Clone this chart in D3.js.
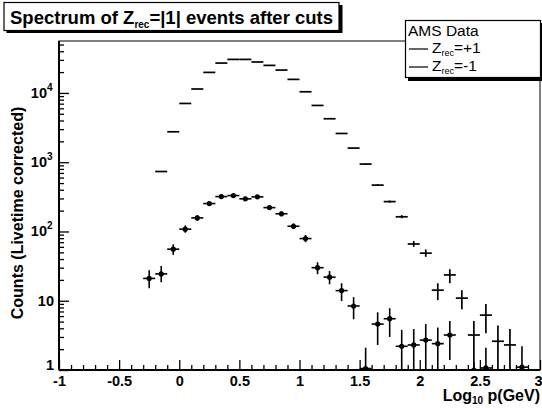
<!DOCTYPE html>
<html><head><meta charset="utf-8">
<script src="https://cdn.jsdelivr.net/npm/d3@7"></script>
<style>
body{margin:0;background:#fff}
svg{display:block}
text{font-family:"Liberation Sans",Arial,Helvetica,sans-serif;fill:#000}
</style>
</head><body>
<svg id="c" width="542" height="408"></svg>
<script>
// ---- data (log10 p bin centres, bin width 0.1) ----
const binWidth = 0.1;

// Z_rec = +1
const posX  = [-0.15,-0.05,0.05,0.15,0.25,0.35,0.45,0.55,0.65,0.75,0.85,0.95,1.05,1.15,1.25,1.35,1.45,1.55,1.65,1.75,1.85,1.95,2.05,2.15,2.25,2.35,2.45,2.55,2.65,2.75];
const posY  = [734,2750,7050,11400,19800,27000,30500,30500,28000,25000,21400,15700,10400,6600,4240,2600,1600,940,467,270,163,66,48.6,14.2,23.6,10.9,3.2,6.2,2.6,2.3];
const posHi = [734,2750,7050,11400,19800,27000,30500,30500,28000,25000,21400,15700,10400,6600,4240,2600,1600,960,480,280,172,73,55,17.9,28.5,14.2,5.1,9,4.4,3.9];
const posLo = [734,2750,7050,11400,19800,27000,30500,30500,28000,25000,21400,15700,10400,6600,4240,2600,1600,920,455,260,155,60,43,10.2,17.9,7.5,1,3.4,1,1];

// Z_rec = -1
const negX  = [-0.25,-0.15,-0.05,0.05,0.15,0.25,0.35,0.45,0.55,0.65,0.75,0.85,0.95,1.05,1.15,1.25,1.35,1.45,1.55,1.65,1.75,1.85,1.95,2.05,2.15,2.25,2.45,2.55,2.85];
const negY  = [21,24.4,55.5,108,157,253,319,330,296,316,221,180,119,79,30,21.9,14,8.4,1.05,4.6,5.5,2.2,2.3,2.7,2.4,3.2,1.0,1.07,1.1];
const negHi = [27.6,31.8,65.4,122,172,272,340,350,316,336,238,195,131,89,36,26.8,17.9,11.3,2.1,6.8,7.8,3.8,3.9,4.6,4.1,5.1,1.3,2.1,2.2];
const negLo = [15.2,18.5,45.9,96,143,236,300,311,278,297,205,166,108,70,24.2,17.3,9.9,5.4,1,2.3,3.0,1,1,1,1,1.4,1,1,1];

// axes
const xDomain = [-1, 3];
const yDomain = [1, 56234];
const xMajor = [-1,-0.5,0,0.5,1,1.5,2,2.5,3];
const xMajorLabels = ["-1","-0.5","0","0.5","1","1.5","2","2.5","3"];
const yMajor = [1,10,100,1000,10000];
const yMajorLabels = [["1",""],["10",""],["10","2"],["10","3"],["10","4"]];

const titleMain = ["Spectrum of Z","rec","=|1| events after cuts"];
const yTitle = "Counts (Livetime corrected)";
const legendHeader = "AMS Data";
const legendItems = [["Z","rec","=+1"],["Z","rec","=-1"]];

// ---- layout ----
const L = 59, R = 540, T = 41, B = 370;
const svg = d3.select("#c");
const x = d3.scaleLinear().domain(xDomain).range([L, R]);
const y = d3.scaleLog().domain(yDomain).range([B, T]);

svg.append("defs").append("clipPath").attr("id","pc")
  .append("rect").attr("x",L).attr("y",T).attr("width",R-L).attr("height",B-T+1);

// frame
svg.append("rect").attr("x",L).attr("y",T).attr("width",R-L).attr("height",B-T)
  .attr("fill","none").attr("stroke","#000").attr("stroke-width",1);

// minor x ticks
const xMinor = d3.range(-10, 31).map(i => i/10).filter(v => Math.abs(v*2 - Math.round(v*2)) > 1e-6);
const gx = svg.append("g").attr("transform",`translate(0,${B})`);
gx.call(d3.axisBottom(x).tickValues(xMinor).tickSize(-5).tickFormat(""))
  .call(g => g.select(".domain").remove());
gx.append("g").call(d3.axisBottom(x).tickValues(xMajor).tickSize(-10).tickPadding(4)
    .tickFormat((d,i) => xMajorLabels[i]))
  .call(g => g.select(".domain").remove())
  .call(g => g.selectAll("text").attr("font-size",14.5).attr("font-weight","bold")
         .attr("font-family",'"Liberation Sans",Arial,sans-serif').attr("dy","0.85em")
         .attr("text-anchor",(d,i) => i === xMajor.length-1 ? "end" : "middle")
         .attr("x",(d,i) => i === xMajor.length-1 ? 2 : 0));
gx.selectAll("line").attr("stroke","#000").attr("stroke-width",1.3);
svg.append("line").attr("x1",L).attr("x2",R).attr("y1",B).attr("y2",B).attr("stroke","#000").attr("stroke-width",2);

// y ticks
const yMinor = [];
[1,10,100,1000,10000].forEach(d => { for (let k=2;k<=9;k++){ const v=d*k; if (v<yDomain[1]) yMinor.push(v);} });
const gy = svg.append("g").attr("transform",`translate(${L},0)`);
gy.call(d3.axisLeft(y).tickValues(yMinor).tickSize(-5).tickFormat(""))
  .call(g => g.select(".domain").remove());
gy.append("g").call(d3.axisLeft(y).tickValues(yMajor).tickSize(-10).tickFormat(""))
  .call(g => g.select(".domain").remove());
gy.selectAll("line").attr("stroke","#000").attr("stroke-width",1.3);
svg.append("line").attr("x1",L).attr("x2",L).attr("y1",T).attr("y2",B).attr("stroke","#000").attr("stroke-width",2);

// y labels with superscripts
yMajor.forEach((v,i) => {
  const [base, sup] = yMajorLabels[i];
  svg.append("text").attr("x", L-5 - (sup?7:0)).attr("y", y(v)+ (v===1? 0 : 5))
    .attr("text-anchor","end").attr("font-size",14.5).attr("font-weight","bold").text(base);
  if (sup) svg.append("text").attr("x", L-12).attr("y", y(v)-2)
    .attr("font-size",10).attr("font-weight","bold").text(sup);
});

// data
const gd = svg.append("g").attr("clip-path","url(#pc)");
function drawSeries(xs, ys, his, los, dots, w){
  const g = gd.append("g").attr("stroke","#000").attr("stroke-width",w);
  xs.forEach((c,i) => {
    g.append("line").attr("x1",x(c-binWidth/2)).attr("x2",x(c+binWidth/2))
      .attr("y1",y(ys[i])).attr("y2",y(ys[i]));
    if (his[i] !== los[i]) g.append("line").attr("x1",x(c)).attr("x2",x(c))
      .attr("y1",y(his[i])).attr("y2",y(Math.max(los[i],1))+ (los[i]<=1?2:0));
    if (dots) g.append("circle").attr("cx",x(c)).attr("cy",y(ys[i])).attr("r",2.6).attr("fill","#000").attr("stroke","none");
  });
}
drawSeries(posX,posY,posHi,posLo,false,1.7);
drawSeries(negX,negY,negHi,negLo,true,1.6);

// axis titles
svg.append("text").attr("transform","translate(23,213) rotate(-90)")
  .attr("text-anchor","middle").attr("font-size",16).attr("font-weight","bold").text(yTitle);
const xt = svg.append("text").attr("x",540).attr("y",401).attr("text-anchor","end")
  .attr("font-size",16).attr("font-weight","bold");
xt.append("tspan").text("Log");
xt.append("tspan").attr("font-size",10).attr("dy",3).text("10");
xt.append("tspan").attr("dy",-3).text(" p(GeV)");

// title box
svg.append("rect").attr("x",6.5).attr("y",5).attr("width",336).attr("height",28).attr("fill","#000");
svg.append("rect").attr("x",4).attr("y",2.5).attr("width",335).attr("height",28)
  .attr("fill","#fff").attr("stroke","#000").attr("stroke-width",1.2);
const tt = svg.append("text").attr("x",10).attr("y",23.5).attr("font-size",18.5).attr("font-weight","bold");
tt.append("tspan").text(titleMain[0]);
tt.append("tspan").attr("font-size",10).attr("dy",4).text(titleMain[1]);
tt.append("tspan").attr("dy",-4).text(titleMain[2]);

// legend box
svg.append("rect").attr("x",408).attr("y",23).attr("width",136).attr("height",58).attr("fill","#000");
svg.append("rect").attr("x",405.5).attr("y",20.5).attr("width",135).attr("height",57)
  .attr("fill","#fff").attr("stroke","#000").attr("stroke-width",1.2);
svg.append("text").attr("x",408).attr("y",36).attr("font-size",15.5).text(legendHeader);
legendItems.forEach((it,i) => {
  const yy = 53 + i*18;
  svg.append("line").attr("x1",409).attr("x2",428).attr("y1",yy-4).attr("y2",yy-4)
    .attr("stroke","#000").attr("stroke-width",1.2);
  const t = svg.append("text").attr("x",432).attr("y",yy).attr("font-size",15.5);
  t.append("tspan").text(it[0]);
  t.append("tspan").attr("font-size",9).attr("dy",3).text(it[1]);
  t.append("tspan").attr("dy",-3).text(it[2]);
});
</script>
</body></html>
